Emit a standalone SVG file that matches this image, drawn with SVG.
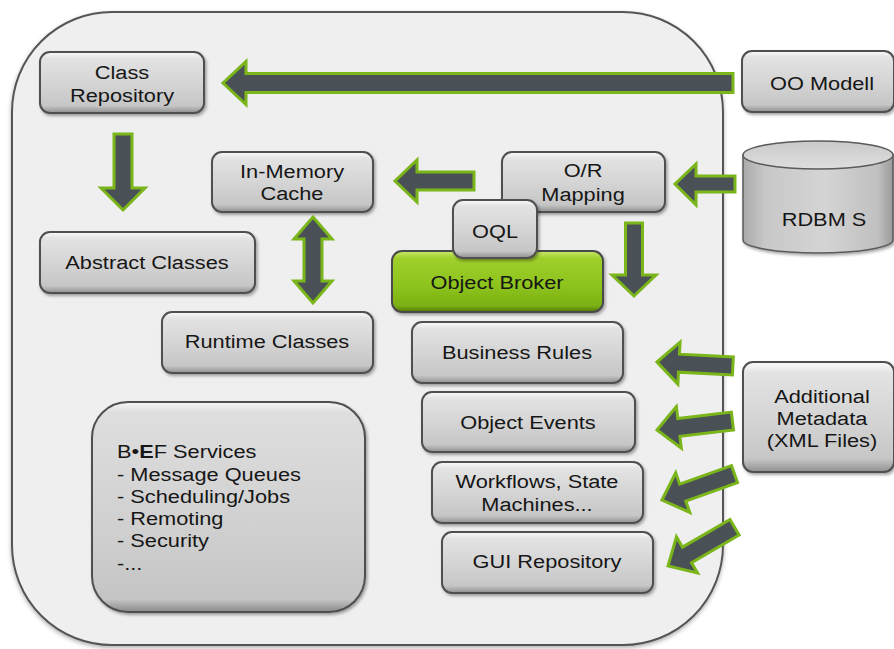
<svg xmlns="http://www.w3.org/2000/svg" width="894" height="649" viewBox="0 0 894 649">
  <defs>
    <linearGradient id="gBox" x1="0" y1="0" x2="0" y2="1">
      <stop offset="0" stop-color="#fbfbfb"/>
      <stop offset="0.1" stop-color="#e3e3e3"/>
      <stop offset="0.55" stop-color="#d3d3d3"/>
      <stop offset="0.88" stop-color="#c6c6c6"/>
      <stop offset="1" stop-color="#8f8f8f"/>
    </linearGradient>
    <linearGradient id="gBig" x1="0" y1="0" x2="0" y2="1">
      <stop offset="0" stop-color="#f5f5f5"/>
      <stop offset="0.05" stop-color="#dedede"/>
      <stop offset="0.6" stop-color="#d0d0d0"/>
      <stop offset="0.94" stop-color="#c4c4c4"/>
      <stop offset="1" stop-color="#8a8a8a"/>
    </linearGradient>
    <linearGradient id="gGreen" x1="0" y1="0" x2="0" y2="1">
      <stop offset="0" stop-color="#c8e86a"/>
      <stop offset="0.12" stop-color="#9fcf2c"/>
      <stop offset="0.6" stop-color="#8cc21c"/>
      <stop offset="0.9" stop-color="#7cb014"/>
      <stop offset="1" stop-color="#4f760a"/>
    </linearGradient>
    <linearGradient id="gCyl" x1="0" y1="0" x2="1" y2="0">
      <stop offset="0" stop-color="#a9a9a9"/>
      <stop offset="0.15" stop-color="#c8c8c8"/>
      <stop offset="0.55" stop-color="#d4d4d4"/>
      <stop offset="0.9" stop-color="#c0c0c0"/>
      <stop offset="1" stop-color="#9a9a9a"/>
    </linearGradient>
    <linearGradient id="gCylTop" x1="0" y1="0" x2="0" y2="1">
      <stop offset="0" stop-color="#cacaca"/>
      <stop offset="1" stop-color="#dedede"/>
    </linearGradient>
    <filter id="shadow" x="-10%" y="-10%" width="125%" height="140%">
      <feDropShadow dx="1.5" dy="2" stdDeviation="1.5" flood-color="#000" flood-opacity="0.35"/>
    </filter>
    <filter id="panelShadow" x="-5%" y="-5%" width="110%" height="110%">
      <feDropShadow dx="0" dy="2" stdDeviation="2" flood-color="#000" flood-opacity="0.3"/>
    </filter>
    <style>
      .box { fill: url(#gBox); stroke: #4f4f4f; stroke-width: 2; filter: url(#shadow); }
      .big { fill: url(#gBig); stroke: #4f4f4f; stroke-width: 2; filter: url(#shadow); }
      .green { fill: url(#gGreen); stroke: #4a4a4a; stroke-width: 2; filter: url(#shadow); }
      .arrow { fill: #4a5156; stroke: #7ab51a; stroke-width: 3; stroke-linejoin: miter; }
      .t { font-family: "Liberation Sans", Arial, sans-serif; font-size: 18px; fill: #161616; text-anchor: middle; }
      .tl { font-family: "Liberation Sans", Arial, sans-serif; font-size: 18px; fill: #161616; text-anchor: start; }
    </style>
  </defs>

  <rect width="894" height="649" fill="#ffffff"/>

  <!-- framework boundary -->
  <rect id="framework" x="12" y="12" width="711" height="633" rx="100" ry="100" fill="#efefef" stroke="#555555" stroke-width="2" filter="url(#panelShadow)"/>

  <g id="class-repository">
    <rect class="box" x="40" y="52" width="164" height="61" rx="10"/>
    <text class="t" transform="translate(122,79) scale(1.21,1)">Class</text>
    <text class="t" transform="translate(122,102) scale(1.21,1)">Repository</text>
  </g>

  <g id="in-memory-cache">
    <rect class="box" x="212" y="152" width="161" height="60" rx="10"/>
    <text class="t" transform="translate(292,178) scale(1.21,1)">In-Memory</text>
    <text class="t" transform="translate(292,200) scale(1.21,1)">Cache</text>
  </g>

  <g id="or-mapping">
    <rect class="box" x="502" y="152" width="163" height="60" rx="10"/>
    <text class="t" transform="translate(583,177) scale(1.21,1)">O/R</text>
    <text class="t" transform="translate(583,201) scale(1.21,1)">Mapping</text>
  </g>

  <g id="object-broker">
    <rect class="green" x="392" y="251" width="211" height="61" rx="10"/>
    <text class="t" fill="#1e2a10" transform="translate(497,289) scale(1.21,1)">Object Broker</text>
  </g>

  <g id="oql">
    <rect class="box" x="453" y="200" width="84" height="58" rx="10"/>
    <text class="t" transform="translate(495,238) scale(1.21,1)">OQL</text>
  </g>

  <g id="abstract-classes">
    <rect class="box" x="40" y="232" width="215" height="61" rx="10"/>
    <text class="t" transform="translate(147,269) scale(1.21,1)">Abstract Classes</text>
  </g>

  <g id="runtime-classes">
    <rect class="box" x="162" y="312" width="211" height="61" rx="10"/>
    <text class="t" transform="translate(267,348) scale(1.21,1)">Runtime Classes</text>
  </g>

  <g id="business-rules">
    <rect class="box" x="412" y="322" width="211" height="61" rx="10"/>
    <text class="t" transform="translate(517,359) scale(1.21,1)">Business Rules</text>
  </g>

  <g id="object-events">
    <rect class="box" x="422" y="392" width="213" height="60" rx="10"/>
    <text class="t" transform="translate(528,429) scale(1.21,1)">Object Events</text>
  </g>

  <g id="workflows">
    <rect class="box" x="432" y="462" width="211" height="61" rx="10"/>
    <text class="t" transform="translate(537,488) scale(1.21,1)">Workflows, State</text>
    <text class="t" transform="translate(537,511) scale(1.21,1)">Machines...</text>
  </g>

  <g id="gui-repository">
    <rect class="box" x="442" y="532" width="211" height="61" rx="10"/>
    <text class="t" transform="translate(547,568) scale(1.21,1)">GUI Repository</text>
  </g>

  <g id="bef-services">
    <rect class="big" x="92" y="402" width="273" height="210" rx="36"/>
    <text class="tl" transform="translate(117,458) scale(1.21,1)">B•<tspan font-weight="bold">E</tspan>F Services</text>
    <text class="tl" transform="translate(117,481) scale(1.21,1)">- Message Queues</text>
    <text class="tl" transform="translate(117,503) scale(1.21,1)">- Scheduling/Jobs</text>
    <text class="tl" transform="translate(117,525) scale(1.21,1)">- Remoting</text>
    <text class="tl" transform="translate(117,547) scale(1.21,1)">- Security</text>
    <text class="tl" transform="translate(117,570) scale(1.21,1)">-...</text>
  </g>

  <g id="oo-modell">
    <rect class="box" x="742" y="51" width="152" height="61" rx="10"/>
    <text class="t" transform="translate(822,90) scale(1.21,1)">OO Modell</text>
  </g>

  <g id="rdbms">
    <path d="M743,155 L743,240 A75,13 0 0 0 893,240 L893,155 Z" fill="url(#gCyl)" stroke="#5a5a5a" stroke-width="1.5" filter="url(#shadow)"/>
    <ellipse cx="818" cy="155" rx="75" ry="14" fill="url(#gCylTop)" stroke="#5a5a5a" stroke-width="1.5"/>
    <text class="t" transform="translate(824,226) scale(1.21,1)">RDBM S</text>
  </g>

  <g id="additional-metadata">
    <rect class="box" x="743" y="362" width="151" height="110" rx="10"/>
    <text class="t" transform="translate(822,403) scale(1.21,1)">Additional</text>
    <text class="t" transform="translate(822,425) scale(1.21,1)">Metadata</text>
    <text class="t" transform="translate(822,447) scale(1.21,1)">(XML Files)</text>
  </g>

  <g id="connectors">
    <!-- OO Modell to Class Repository -->
    <polygon class="arrow" points="733,73.5 246,73.5 246,61.5 223,83 246,104.5 246,92.5 733,92.5"/>
    <!-- Class Repository to Abstract Classes -->
    <polygon class="arrow" points="114,134 132,134 132,188 145,188 123,210 101,188 114,188"/>
    <!-- O/R Mapping to In-Memory Cache -->
    <polygon class="arrow" points="474,172 417,172 417,160 395,181 417,202 417,190 474,190"/>
    <!-- In-Memory Cache and Runtime Classes -->
    <polygon class="arrow" points="313,217 332,239 322,239 322,281 332,281 313,303 294,281 304,281 304,239 294,239"/>
    <!-- RDBMS to O/R Mapping -->
    <polygon class="arrow" points="735,176 696,176 696,164 675,184 696,205 696,192 735,192"/>
    <!-- O/R Mapping to Object Broker -->
    <polygon class="arrow" points="625.5,223 642.5,223 642.5,275 656,275 634,296 612,275 625.5,275"/>
    <!-- Additional Metadata to the rule, event, workflow and GUI layers -->
    <polygon class="arrow" transform="translate(657,362) rotate(3)" points="0,0 22,-21 22,-9 76,-9 76,9 22,9 22,21"/>
    <polygon class="arrow" transform="translate(657,430) rotate(-6.8)" points="0,0 22,-21 22,-9 76,-9 76,9 22,9 22,21"/>
    <polygon class="arrow" transform="translate(662,500) rotate(-19.6)" points="0,0 22,-21 22,-9 77,-9 77,9 22,9 22,21"/>
    <polygon class="arrow" transform="translate(668,566) rotate(-30.2)" points="0,0 22,-21 22,-9 77,-9 77,9 22,9 22,21"/>
  </g>
</svg>
